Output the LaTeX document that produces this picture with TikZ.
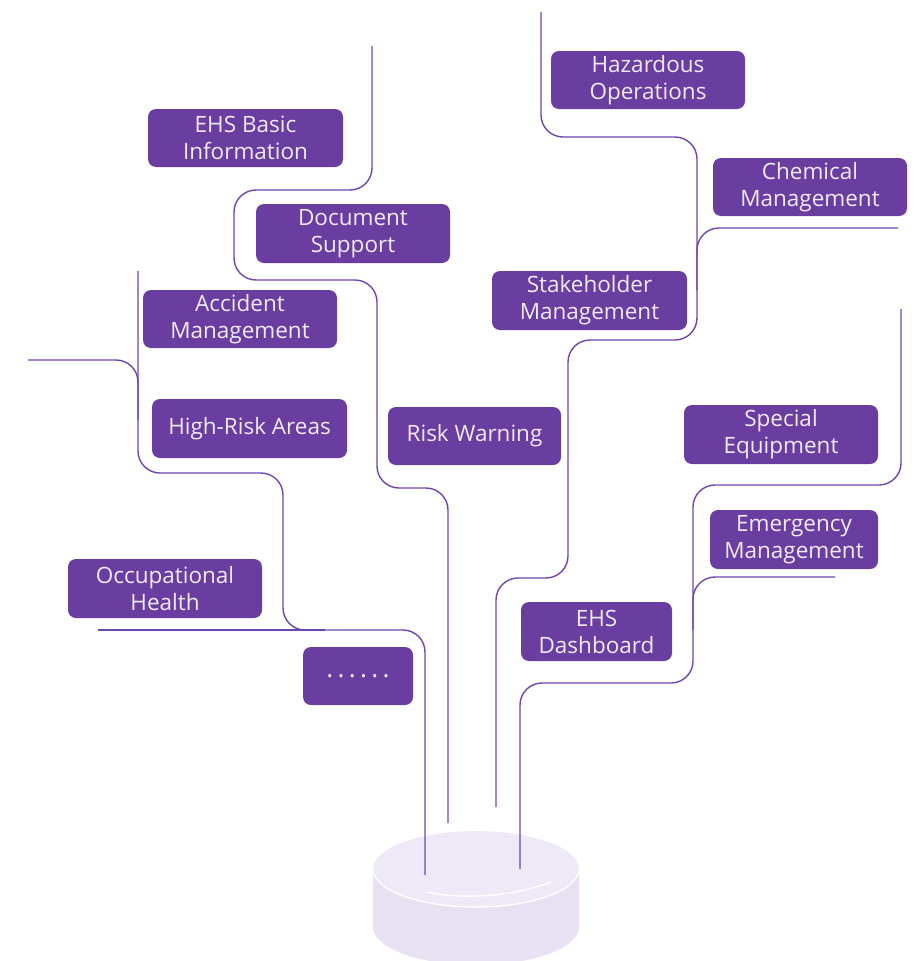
\documentclass[tikz,border=0pt]{standalone}
\usepackage{fontspec}
\setmainfont{Open Sans}
\definecolor{boxpurple}{HTML}{6A3DA0}
\definecolor{boxtext}{HTML}{F1EAFB}
\definecolor{linepurple}{HTML}{6E45AE}
\definecolor{cyltop}{HTML}{EEE9F6}
\definecolor{cylside}{HTML}{E7E1F1}
\begin{document}
\begin{tikzpicture}[x=1pt,y=-1pt,
  item/.style={fill=boxpurple, rounded corners=8pt, text=boxtext, align=center,
    inner sep=0pt, font=\fontsize{22.5}{27}\selectfont},
  branch/.style={draw=linepurple, line width=1.4pt, rounded corners=22pt}]
\clip (0,0) rectangle (914,961);

% base cylinder
\fill[cylside] (373,869) -- (373,927)
  arc[start angle=180, end angle=0, x radius=103, y radius=38] -- (579,869) -- cycle;
\fill[cyltop] (476,869) ellipse [x radius=103, y radius=38];
\draw[white, line width=1.3pt] (373,869)
  arc[start angle=180, end angle=0, x radius=103, y radius=38];
\draw[white, line width=1.3pt] (427,892) .. controls (455,899) and (510,898) .. (551,882);

% branches
\draw[branch] (372,46) -- (372,190) -- (234,190) -- (234,280) -- (377,280)
  -- (377,488) -- (448,488) -- (448,823);
\draw[branch] (138,271) -- (138,473) -- (283,473) -- (283,630) -- (425,630) -- (425,875);
\draw[branch] (28,360) -- (138,360) -- (138,420);
\draw[branch] (98,630) -- (325,630);
\draw[branch] (541,12) -- (541,137) -- (697,137) -- (697,340) -- (568,340)
  -- (568,578) -- (496,578) -- (496,807);
\draw[branch] (898,228) -- (697,228) -- (697,290);
\draw[branch] (901,309) -- (901,485) -- (693,485) -- (693,683) -- (520,683) -- (520,869);
\draw[branch] (835,577) -- (693,577) -- (693,630);

% modules
\node[item, minimum width=195pt, minimum height=58pt] (ehs)   at (245.5,138)   {EHS Basic\\Information};
\node[item, minimum width=194pt, minimum height=59pt] (doc)   at (353,233.5)   {Document\\Support};
\node[item, minimum width=194pt, minimum height=58pt] (acc)   at (240,319)     {Accident\\Management};
\node[item, minimum width=195pt, minimum height=59pt] (hra)   at (249.5,428.5) {High-Risk Areas};
\node[item, minimum width=173pt, minimum height=58pt] (risk)  at (474.5,436)    {Risk Warning};
\node[item, minimum width=194pt, minimum height=59pt] (occ)   at (165,588.5)   {Occupational\\Health};
\node[item, minimum width=110pt, minimum height=58pt, font=\fontsize{26}{27}\selectfont] (more) at (358,676) {.\,.\,.\,.\,.\,.};
\node[item, minimum width=194pt, minimum height=58pt] (haz)   at (648,80)      {Hazardous\\Operations};
\node[item, minimum width=194pt, minimum height=58pt] (chem)  at (810,187)     {Chemical\\Management};
\node[item, minimum width=195pt, minimum height=59pt] (stake) at (589.5,300.5) {Stakeholder\\Management};
\node[item, minimum width=194pt, minimum height=59pt] (spec)  at (781,434.5)   {Special\\Equipment};
\node[item, minimum width=168pt, minimum height=59pt] (emer)  at (794,539.5)   {Emergency\\Management};
\node[item, minimum width=151pt, minimum height=59pt] (dash)  at (596.5,631.5) {EHS\\Dashboard};
\end{tikzpicture}
\end{document}
